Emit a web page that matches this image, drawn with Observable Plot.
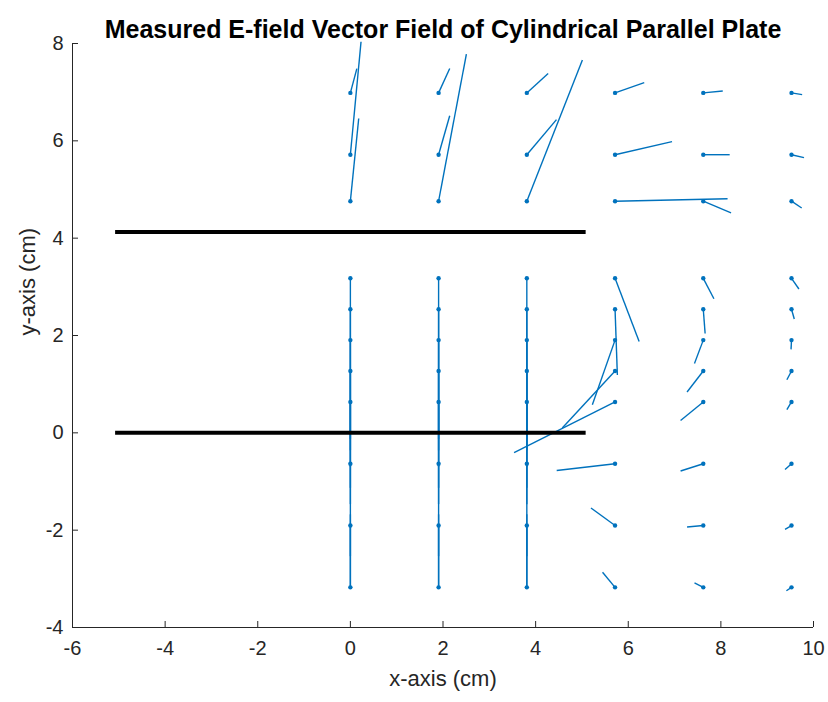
<!DOCTYPE html>
<html>
<head>
<meta charset="utf-8">
<script src="https://cdn.jsdelivr.net/npm/d3@7"></script>
<script src="https://cdn.jsdelivr.net/npm/@observablehq/plot@0.6"></script>
<style>
  html, body { margin: 0; padding: 0; background: #fff; }
  #chart svg { display: block; }
</style>
</head>
<body>
<div id="chart"></div>
<script>
// Measurement grid points (cm) and measured field components (scaled, cm)
const pointX = [
  0, 0, 0, 1.905, 1.905, 1.905, 3.81, 3.81, 3.81, 5.715, 5.715, 5.715, 7.62, 7.62, 7.62, 9.525, 9.525, 9.525,
  0, 0, 0, 0, 0, 0, 0, 0,
  1.905, 1.905, 1.905, 1.905, 1.905, 1.905, 1.905, 1.905,
  3.81, 3.81, 3.81, 3.81, 3.81, 3.81, 3.81, 3.81,
  5.715, 5.715, 5.715, 5.715, 5.715, 5.715, 5.715, 5.715,
  7.62, 7.62, 7.62, 7.62, 7.62, 7.62, 7.62, 7.62,
  9.525, 9.525, 9.525, 9.525, 9.525, 9.525, 9.525, 9.525
];
const pointY = [
  6.985, 5.715, 4.76, 6.985, 5.715, 4.76, 6.985, 5.715, 4.76, 6.985, 5.715, 4.76, 6.985, 5.715, 4.76, 6.985, 5.715, 4.76,
  3.175, 2.54, 1.905, 1.27, 0.635, -0.635, -1.905, -3.175,
  3.175, 2.54, 1.905, 1.27, 0.635, -0.635, -1.905, -3.175,
  3.175, 2.54, 1.905, 1.27, 0.635, -0.635, -1.905, -3.175,
  3.175, 2.54, 1.905, 1.27, 0.635, -0.635, -1.905, -3.175,
  3.175, 2.54, 1.905, 1.27, 0.635, -0.635, -1.905, -3.175,
  3.175, 2.54, 1.905, 1.27, 0.635, -0.635, -1.905, -3.175
];
const fieldU = [
  0.14, 0.23, 0.18, 0.24, 0.24, 0.60, 0.46, 0.64, 1.20, 0.63, 1.23, 2.43, 0.42, 0.57, 0.60, 0.23, 0.27, 0.22,
  0, 0, 0, 0, 0, 0, 0, 0,
  0, 0, 0, 0, 0, 0, 0, 0,
  0, 0, 0, 0, 0, 0, 0, 0,
  0.52, 0.05, -0.49, -1.14, -2.18, -1.26, -0.52, -0.27,
  0.23, 0.04, -0.19, -0.35, -0.49, -0.49, -0.35, -0.19,
  0.16, 0.06, -0.01, -0.10, -0.10, -0.14, -0.14, -0.11
];
const fieldV = [
  0.50, 2.32, 1.70, 0.50, 0.80, 3.02, 0.40, 0.72, 2.90, 0.21, 0.27, 0.05, 0.04, 0.00, -0.24, -0.035, -0.06, -0.14,
  -3.3, -2.9, -2.6, -2.4, -2.1, -1.9, -1.27, 1.5,
  -3.3, -2.9, -2.6, -2.4, -2.1, -1.9, -1.27, 1.5,
  -3.3, -2.9, -2.6, -2.4, -2.1, -1.9, -1.27, 1.5,
  -1.30, -1.35, -1.33, -1.17, -1.04, -0.14, 0.36, 0.31,
  -0.42, -0.50, -0.48, -0.43, -0.38, -0.15, -0.03, 0.09,
  -0.22, -0.20, -0.19, -0.18, -0.16, -0.12, -0.08, -0.07
];

// Plates
const plateY = [0, 4.1275];
const plateStart = [-5.08, -5.08];
const plateEnd = [5.08, 5.08];

// Axis ticks
const xTicks = [-6, -4, -2, 0, 2, 4, 6, 8, 10];
const yTicks = [-4, -2, 0, 2, 4, 6, 8];

const titleText = "Measured E-field Vector Field of Cylindrical Parallel Plate";
const xLabel = "x-axis (cm)";
const yLabel = "y-axis (cm)";

const vectors = pointX.map((x, i) => ({x, y: pointY[i], u: fieldU[i], v: fieldV[i]}));
const plates = plateY.map((y, i) => ({y, x1: plateStart[i], x2: plateEnd[i]}));

const blue = "#0072BD";
const ink = "#262626";
const font = "'Liberation Sans', Arial, Helvetica, sans-serif";

const chart = Plot.plot({
  width: 828,
  height: 702,
  marginLeft: 72,
  marginRight: 15,
  marginTop: 43,
  marginBottom: 75,
  style: {fontFamily: font, fontSize: "20px", color: ink, background: "#fff"},
  x: {domain: [-6, 10], ticks: xTicks},
  y: {domain: [-4, 8], ticks: yTicks},
  marks: [
    Plot.link(vectors, {x1: "x", y1: "y", x2: d => d.x + d.u, y2: d => d.y + d.v, stroke: blue, strokeWidth: 1.4}),
    Plot.dot(vectors, {x: "x", y: "y", r: 2.2, fill: blue, stroke: "none"}),
    Plot.link(plates, {x1: "x1", x2: "x2", y1: "y", y2: "y", stroke: "#000", strokeWidth: 4}),
    Plot.ruleX([-6], {stroke: ink, strokeWidth: 1}),
    Plot.ruleY([-4], {stroke: ink, strokeWidth: 1}),
    Plot.axisX(xTicks, {tickSize: -6, tickPadding: 19, stroke: ink, fill: ink, fontSize: 20, tickFormat: d => String(d), label: null}),
    Plot.axisY(yTicks, {tickSize: -6, tickPadding: 15, stroke: ink, fill: ink, fontSize: 20, tickFormat: d => String(d), label: null}),
    Plot.text([titleText], {frameAnchor: "top", dy: -23, fontWeight: "bold", fontSize: 25, fill: "#000"}),
    Plot.text([xLabel], {frameAnchor: "bottom", dy: 58, fontSize: 22, fill: ink}),
    Plot.text([yLabel], {frameAnchor: "left", dx: -45, rotate: -90, fontSize: 22, fill: ink})
  ]
});
document.getElementById("chart").appendChild(chart);
</script>
</body>
</html>
